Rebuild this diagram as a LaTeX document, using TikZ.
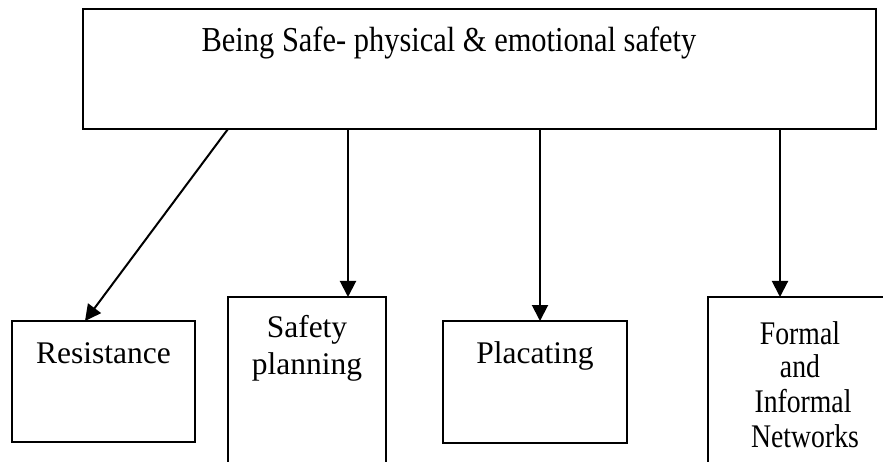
\documentclass[tikz,border=0pt]{standalone}
\usepackage{fontspec}
\setmainfont{Liberation Serif}
\usetikzlibrary{arrows.meta,calc}
\begin{document}
\begin{tikzpicture}[x=1pt,y=-1pt,
  box/.style={draw,line width=2pt,anchor=north west,outer sep=0pt,inner sep=0pt},
  arr/.style={line width=2pt,-{Triangle[length=16pt,width=16pt]}},
  lbl/.style={anchor=base,inner sep=0pt,font=\fontsize{31.5}{37}\selectfont},
  flbl/.style={anchor=base,inner sep=0pt,font=\fontsize{33}{35}\selectfont}]
\clip (0,0) rectangle (883,462);
\fill[white] (0,0) rectangle (883,462);
% boxes
\node[box,minimum width=793pt,minimum height=120pt] (top) at (83,9) {};
\node[box,minimum width=183pt,minimum height=121pt] (res) at (12,321) {};
\node[box,minimum width=158pt,minimum height=200pt] (saf) at (228,297) {};
\node[box,minimum width=184pt,minimum height=122pt] (pla) at (443,321) {};
\node[box,minimum width=190pt,minimum height=200pt] (for) at (708,297) {};
% texts
\node[anchor=base,inner sep=0pt,font=\fontsize{35}{42}\selectfont] (ttl) at (449,52) {\scalebox{0.87}[1]{Being Safe- physical \& emotional safety}};
\node[lbl] (tres) at (103.5,363) {Resistance};
\node[lbl] (tsaf1) at (307,337) {Safety};
\node[lbl] (tsaf2) at (307,374) {planning};
\node[lbl] (tpla) at (535,363) {Placating};
\node[flbl] (tfor1) at (800,344) {\scalebox{0.84}[1]{Formal}};
\node[flbl] (tfor2) at (800,377) {\scalebox{0.84}[1]{and}};
\node[flbl] (tfor3) at (803,412) {\scalebox{0.84}[1]{Informal}};
\node[flbl] (tfor4) at (805,447) {\scalebox{0.84}[1]{Networks}};
% connectors
\coordinate (s1) at ($(top.south west)+(145,0)$);
\coordinate (e1) at ($(res.north west)+(73,0)$);
\draw[arr] (s1) -- (e1);
\coordinate (e2) at ($(saf.north east)+(-38,0)$);
\draw[arr] (top.south -| e2) -- (e2);
\coordinate (e3) at ($(pla.north)+(5,0)$);
\draw[arr] (top.south -| e3) -- (e3);
\coordinate (e4) at ($(for.north west)+(72,0)$);
\draw[arr] (top.south -| e4) -- (e4);
\end{tikzpicture}
\end{document}
